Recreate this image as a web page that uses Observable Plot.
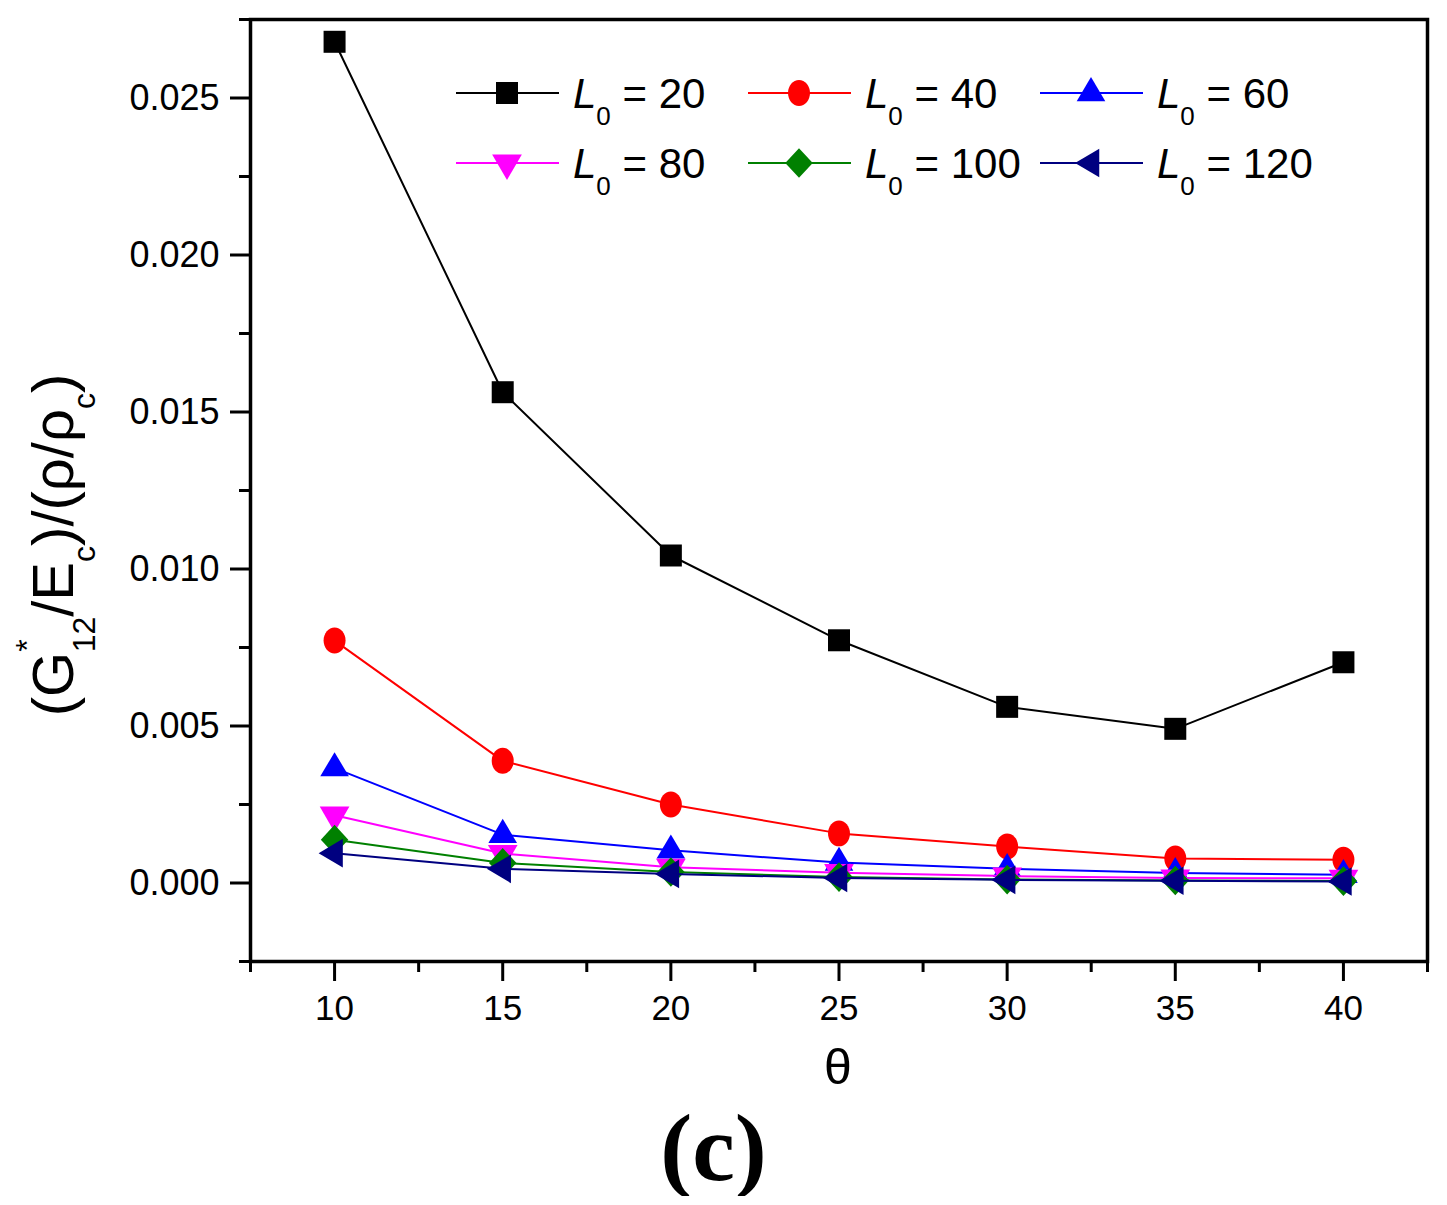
<!DOCTYPE html>
<html><head><meta charset="utf-8">
<script src="https://cdn.jsdelivr.net/npm/d3@7"></script>
<script src="https://cdn.jsdelivr.net/npm/@observablehq/plot@0.6"></script>
<style>
body{margin:0;background:#fff;}
#wrap{position:relative;width:1447px;}
#caption{width:1447px;text-align:center;font-family:"Liberation Serif","Times New Roman",serif;font-weight:bold;font-size:96px;line-height:96px;}
#caption span{display:inline-block;transform:translateX(-10px);}
</style></head><body>
<div id="wrap"><div id="chart"></div><div id="caption"><span>(c)</span></div></div>
<script>
// ---- data ----
const theta = [10, 15, 20, 25, 30, 35, 40];
const seriesNames = ["20", "40", "60", "80", "100", "120"];
const L0_20  = [0.02679, 0.01563, 0.01043, 0.00773, 0.00561, 0.00491, 0.00703];
const L0_40  = [0.00772, 0.00389, 0.00250, 0.00158, 0.00116, 0.00078, 0.00074];
const L0_60  = [0.00366, 0.00154, 0.00104, 0.00065, 0.00045, 0.00032, 0.00026];
const L0_80  = [0.00216, 0.00094, 0.00050, 0.00033, 0.00022, 0.00016, 0.00015];
const L0_100 = [0.00138, 0.00064, 0.00035, 0.00019, 0.00011, 0.00008, 0.00006];
const L0_120 = [0.00095, 0.00045, 0.00029, 0.00016, 0.00010, 0.00007, 0.00005];
const seriesValues = [L0_20, L0_40, L0_60, L0_80, L0_100, L0_120];
const colors = ["#000000", "#ff0000", "#0000ff", "#ff00ff", "#008000", "#000080"];
const yMajor = [0, 0.005, 0.010, 0.015, 0.020, 0.025];
const yMinor = [-0.0025, 0.0025, 0.0075, 0.0125, 0.0175, 0.0225, 0.0275];
const xMinor = [7.5, 12.5, 17.5, 22.5, 27.5, 32.5, 37.5, 42.5];

// ---- custom symbols ----
const sym = fn => ({draw(c, size){ const r = Math.sqrt(size / Math.PI); fn(c, r); }});
const poly = (c, pts) => { c.moveTo(pts[0][0], pts[0][1]); for (let i = 1; i < pts.length; i++) c.lineTo(pts[i][0], pts[i][1]); c.closePath(); };
const shapes = [
  sym((c, r) => { const s = r * 1.0; c.rect(-s, -s, 2 * s, 2 * s); }),
  sym((c, r) => { const rx = r * 1.0, ry = r * 1.18, k = 0.5523;
    c.moveTo(rx, 0);
    c.bezierCurveTo(rx, ry * k, rx * k, ry, 0, ry);
    c.bezierCurveTo(-rx * k, ry, -rx, ry * k, -rx, 0);
    c.bezierCurveTo(-rx, -ry * k, -rx * k, -ry, 0, -ry);
    c.bezierCurveTo(rx * k, -ry, rx, -ry * k, rx, 0); c.closePath(); }),
  sym((c, r) => poly(c, [[0, -1.45 * r], [1.3 * r, 0.75 * r], [-1.3 * r, 0.75 * r]])),
  sym((c, r) => poly(c, [[0, 1.55 * r], [1.35 * r, -0.78 * r], [-1.35 * r, -0.78 * r]])),
  sym((c, r) => poly(c, [[0, -1.35 * r], [1.25 * r, 0], [0, 1.35 * r], [-1.25 * r, 0]])),
  sym((c, r) => poly(c, [[-1.45 * r, 0], [0.75 * r, -1.3 * r], [0.75 * r, 1.3 * r]]))
];

const rows = [];
seriesNames.forEach((s, i) => theta.forEach((t, j) => rows.push({series: s, idx: i, theta: t, value: seriesValues[i][j]})));

const seriesMarks = [];
seriesNames.forEach((s, i) => {
  const d = rows.filter(r => r.idx === i);
  seriesMarks.push(Plot.line(d, {x: "theta", y: "value", stroke: colors[i], strokeWidth: 2}));
  seriesMarks.push(Plot.dot(d, {x: "theta", y: "value", fill: colors[i], stroke: "none", r: 11, symbol: () => shapes[i]}));
});

const W = 1447, H = 1100;
const fontAxis = "'Liberation Sans', Arial, sans-serif";
const chart = Plot.plot({
  width: W, height: H,
  marginLeft: 250, marginRight: 20, marginTop: 19, marginBottom: H - 961,
  style: {background: "#fff", color: "#000", fontFamily: fontAxis},
  x: {domain: [7.5, 42.5]},
  y: {domain: [-0.0025, 0.0275]},
  marks: [
    Plot.axisY(yMajor, {tickSize: 20, strokeWidth: 3, tickPadding: 11, fontSize: 36, tickFormat: d3.format(".3f"), label: null, fill: "#000"}),
    Plot.axisY(yMinor, {tickSize: 11, strokeWidth: 3, text: null, label: null}),
    Plot.axisX(theta, {tickSize: 20, strokeWidth: 3, tickPadding: 14, fontSize: 35, label: null, fill: "#000"}),
    Plot.axisX(xMinor, {tickSize: 11, strokeWidth: 3, text: null, label: null}),
    ...seriesMarks,
    Plot.frame({stroke: "#000", strokeWidth: 3.5})
  ]
});
document.getElementById("chart").appendChild(chart);

const svg = d3.select(chart);

// x-axis title
svg.append("text").attr("x", 838).attr("y", 1084).attr("text-anchor", "middle")
  .attr("font-family", fontAxis).attr("font-size", 50).text("θ");

// y-axis title
const yt = svg.append("text").attr("transform", "translate(73,545) rotate(-90)").attr("text-anchor", "middle")
  .attr("font-family", fontAxis).attr("font-size", 58).attr("fill", "#000");
yt.append("tspan").text("(G");
yt.append("tspan").attr("font-size", 32).attr("dy", -35).text("*");
yt.append("tspan").attr("font-size", 32).attr("dx", -13).attr("dy", 57).text("12");
yt.append("tspan").attr("dy", -22).text("/E");
yt.append("tspan").attr("font-size", 32).attr("dy", 22).text("c");
yt.append("tspan").attr("dy", -22).text(")/(ρ/ρ");
yt.append("tspan").attr("font-size", 32).attr("dy", 22).text("c");
yt.append("tspan").attr("dy", -22).text(")");

// legend
const legX = [456, 748, 1040];
const legY = [93, 163];
seriesNames.forEach((s, i) => {
  const cx = legX[i % 3], cy = legY[Math.floor(i / 3)];
  const g = svg.append("g");
  g.append("line").attr("x1", cx).attr("x2", cx + 103).attr("y1", cy).attr("y2", cy).attr("stroke", colors[i]).attr("stroke-width", 2);
  g.append("path").attr("d", d3.symbol().type(shapes[i]).size(Math.PI * 121)()).attr("transform", `translate(${cx + 51},${cy})`).attr("fill", colors[i]);
  const t = g.append("text").attr("x", cx + 117).attr("y", cy + 15).attr("text-anchor", "start")
    .attr("font-family", fontAxis).attr("font-size", 42).attr("fill", "#000");
  t.append("tspan").attr("font-style", "italic").text("L");
  t.append("tspan").attr("font-size", 26).attr("dy", 17).text("0");
  t.append("tspan").attr("dy", -17).text(" = " + s);
});
</script>
</body></html>
